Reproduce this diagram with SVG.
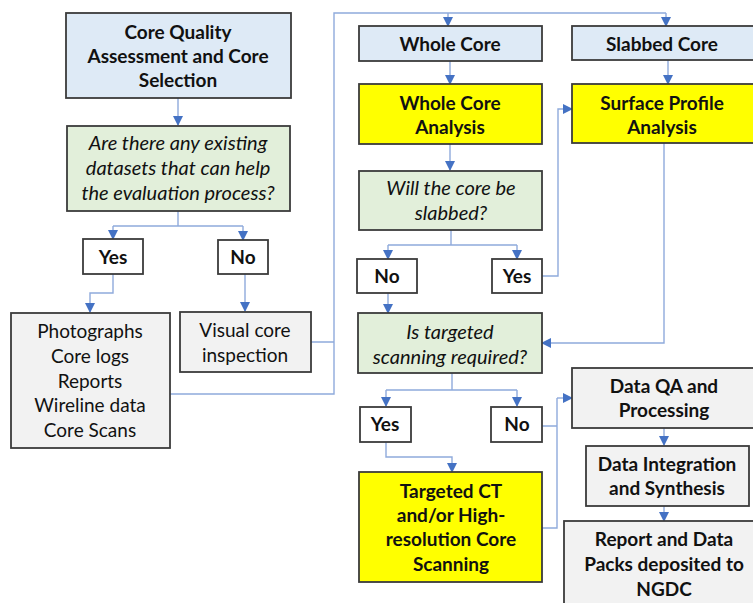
<svg xmlns="http://www.w3.org/2000/svg" width="753" height="603" viewBox="0 0 753 603">
  <defs>
    <marker id="arr" viewBox="0 0 10 10" refX="9" refY="5" markerWidth="10" markerHeight="10" markerUnits="userSpaceOnUse" orient="auto">
      <path d="M0,0 L10,5 L0,10 z" fill="#4472C4"/>
    </marker>
    <style>
      .box { stroke: #3b3b3b; stroke-width: 1.8; }
      .blue { fill: #DEEAF6; }
      .green { fill: #E2EFDA; }
      .yellow { fill: #FFFF00; }
      .grey { fill: #F2F2F2; }
      .white { fill: #FFFFFF; }
      .t { font-family: Lato, "Liberation Sans", sans-serif; font-size: 19px; fill: #111; text-anchor: middle; dominant-baseline: central; }
      .b { font-weight: bold; }
      .i { font-style: italic; font-size: 20px; }
      .ln { fill: none; stroke: #8FAADC; stroke-width: 1.4; }
      .ar { marker-end: url(#arr); }
    </style>
  </defs>
  <rect width="753" height="603" fill="#FFFFFF"/>

  <g id="connectors">
    <path class="ln ar" d="M178,98 V125"/>
    <path class="ln" d="M178,211 V226 M113,226 H243"/>
    <path class="ln ar" d="M113,226 V239"/>
    <path class="ln ar" d="M243,226 V240"/>
    <path class="ln ar" d="M113,274 V293 H90 V312"/>
    <path class="ln ar" d="M245,274 V311"/>
    <path class="ln" d="M311,342 H334 M170,394 H334 V13 H666"/>
    <path class="ln ar" d="M448,13 V26"/>
    <path class="ln ar" d="M666,13 V26"/>
    <path class="ln ar" d="M450,61 V84"/>
    <path class="ln ar" d="M668,60 V84"/>
    <path class="ln ar" d="M450,144 V170"/>
    <path class="ln" d="M451,230 V245 M388,245 H517"/>
    <path class="ln ar" d="M388,245 V259"/>
    <path class="ln ar" d="M517,245 V259"/>
    <path class="ln ar" d="M542,276 H558 V109 H572"/>
    <path class="ln ar" d="M388,293 V313"/>
    <path class="ln ar" d="M664,143 V343 H542"/>
    <path class="ln" d="M452,373 V390 M386,390 H517"/>
    <path class="ln ar" d="M386,390 V406"/>
    <path class="ln ar" d="M517,390 V406"/>
    <path class="ln ar" d="M386,442 V457 H452 V472"/>
    <path class="ln" d="M542,426 H557 M542,528 H557 V398"/>
    <path class="ln ar" d="M557,398 H572"/>
    <path class="ln ar" d="M664,428 V445"/>
    <path class="ln ar" d="M664,506 V521"/>
  </g>

  <g id="core-quality">
    <rect class="box blue" x="66" y="13" width="225" height="85"/>
    <text class="t b" x="178" y="31">Core Quality</text>
    <text class="t b" x="178" y="55">Assessment and Core</text>
    <text class="t b" x="178" y="79">Selection</text>
  </g>

  <g id="existing-datasets">
    <rect class="box green" x="67" y="126" width="223" height="85"/>
    <text class="t i" x="178" y="142">Are there any existing</text>
    <text class="t i" x="178" y="167">datasets that can help</text>
    <text class="t i" x="178" y="192">the evaluation process?</text>
  </g>

  <g id="datasets-yes">
    <rect class="box white" x="83" y="239" width="60" height="35"/>
    <text class="t b" x="113" y="256">Yes</text>
  </g>

  <g id="datasets-no">
    <rect class="box white" x="218" y="240" width="50" height="34"/>
    <text class="t b" x="243" y="256">No</text>
  </g>

  <g id="existing-data">
    <rect class="box grey" x="11" y="313" width="159" height="135"/>
    <text class="t" x="90" y="330">Photographs</text>
    <text class="t" x="90" y="355">Core logs</text>
    <text class="t" x="90" y="380">Reports</text>
    <text class="t" x="90" y="404">Wireline data</text>
    <text class="t" x="90" y="429">Core Scans</text>
  </g>

  <g id="visual-inspection">
    <rect class="box grey" x="180" y="312" width="131" height="60"/>
    <text class="t" x="245" y="329">Visual core</text>
    <text class="t" x="245" y="354">inspection</text>
  </g>

  <g id="whole-core">
    <rect class="box blue" x="359" y="26" width="183" height="35"/>
    <text class="t b" x="450" y="43">Whole Core</text>
  </g>

  <g id="slabbed-core">
    <rect class="box blue" x="572" y="26" width="190" height="34"/>
    <text class="t b" x="662" y="43">Slabbed Core</text>
  </g>

  <g id="whole-core-analysis">
    <rect class="box yellow" x="359" y="84" width="183" height="60"/>
    <text class="t b" x="450" y="102">Whole Core</text>
    <text class="t b" x="450" y="126">Analysis</text>
  </g>

  <g id="surface-profile">
    <rect class="box yellow" x="572" y="84" width="190" height="59"/>
    <text class="t b" x="662" y="102">Surface Profile</text>
    <text class="t b" x="662" y="126">Analysis</text>
  </g>

  <g id="slabbed-question">
    <rect class="box green" x="359" y="171" width="183" height="59"/>
    <text class="t i" x="451" y="187">Will the core be</text>
    <text class="t i" x="451" y="212">slabbed?</text>
  </g>

  <g id="slabbed-no">
    <rect class="box white" x="357" y="259" width="60" height="34"/>
    <text class="t b" x="387" y="275">No</text>
  </g>

  <g id="slabbed-yes">
    <rect class="box white" x="492" y="259" width="50" height="34"/>
    <text class="t b" x="517" y="275">Yes</text>
  </g>

  <g id="targeted-question">
    <rect class="box green" x="358" y="313" width="184" height="60"/>
    <text class="t i" x="450" y="331">Is targeted</text>
    <text class="t i" x="450" y="356">scanning required?</text>
  </g>

  <g id="targeted-yes">
    <rect class="box white" x="360" y="407" width="51" height="35"/>
    <text class="t b" x="385" y="423">Yes</text>
  </g>

  <g id="targeted-no">
    <rect class="box white" x="491" y="407" width="51" height="35"/>
    <text class="t b" x="517" y="423">No</text>
  </g>

  <g id="targeted-scanning">
    <rect class="box yellow" x="359" y="472" width="183" height="110"/>
    <text class="t b" x="451" y="490">Targeted CT</text>
    <text class="t b" x="451" y="514">and/or High-</text>
    <text class="t b" x="451" y="538">resolution Core</text>
    <text class="t b" x="451" y="563">Scanning</text>
  </g>

  <g id="data-qa">
    <rect class="box grey" x="572" y="368" width="190" height="60"/>
    <text class="t b" x="664" y="385">Data QA and</text>
    <text class="t b" x="664" y="409">Processing</text>
  </g>

  <g id="data-integration">
    <rect class="box grey" x="586" y="446" width="163" height="60"/>
    <text class="t b" x="667" y="463">Data Integration</text>
    <text class="t b" x="667" y="487">and Synthesis</text>
  </g>

  <g id="report">
    <rect class="box grey" x="564" y="521" width="200" height="100"/>
    <text class="t b" x="664" y="538">Report and Data</text>
    <text class="t b" x="664" y="563">Packs deposited to</text>
    <text class="t b" x="664" y="588">NGDC</text>
  </g>
</svg>
